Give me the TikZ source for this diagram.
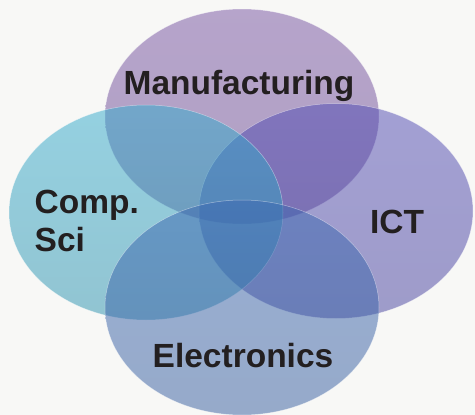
\documentclass[tikz,border=0pt]{standalone}
\usepackage{fontspec}
\setmainfont{Liberation Sans}
\usetikzlibrary{shapes.geometric}
\definecolor{bgc}{RGB}{248,248,246}
\definecolor{txt}{RGB}{35,31,32}
\definecolor{cman}{RGB}{117,81,161}
\definecolor{ccs}{RGB}{51,171,205}
\definecolor{cict}{RGB}{79,73,179}
\definecolor{cel}{RGB}{59,103,177}
\tikzset{
  blob/.style={ellipse, minimum width=274pt, minimum height=215pt, inner sep=0pt,
    fill opacity=0.5, draw=white, draw opacity=0.45, line width=0.5pt},
  lbl/.style={text=txt, inner sep=0pt, font=\fontsize{33.5}{38}\selectfont\bfseries}
}
\begin{document}
\begin{tikzpicture}[x=1pt,y=-1pt]
\fill[bgc] (0,0) rectangle (475,415);
\useasboundingbox (0,0) rectangle (475,415);
\node[blob, top color=cman, bottom color=cman!90!black] (man) at (242,116.5) {};
\node[blob, top color=cict, bottom color=cict!88!black] (ict) at (336,211) {};
\node[blob, top color=ccs, bottom color=ccs!85!black] (cs) at (146,212.5) {};
\node[blob, top color=cel, bottom color=cel!90!black] (el) at (242,307.5) {};
\node[lbl, anchor=base] (tman) at (239,94) {Manufacturing};
\node[lbl, anchor=north west, align=left] (tcs) at (34.5,189.5) {Comp.\\Sci};
\node[lbl, anchor=base] (tict) at (397,233) {ICT};
\node[lbl, anchor=base] (tel) at (243,367) {Electronics};
\end{tikzpicture}
\end{document}
